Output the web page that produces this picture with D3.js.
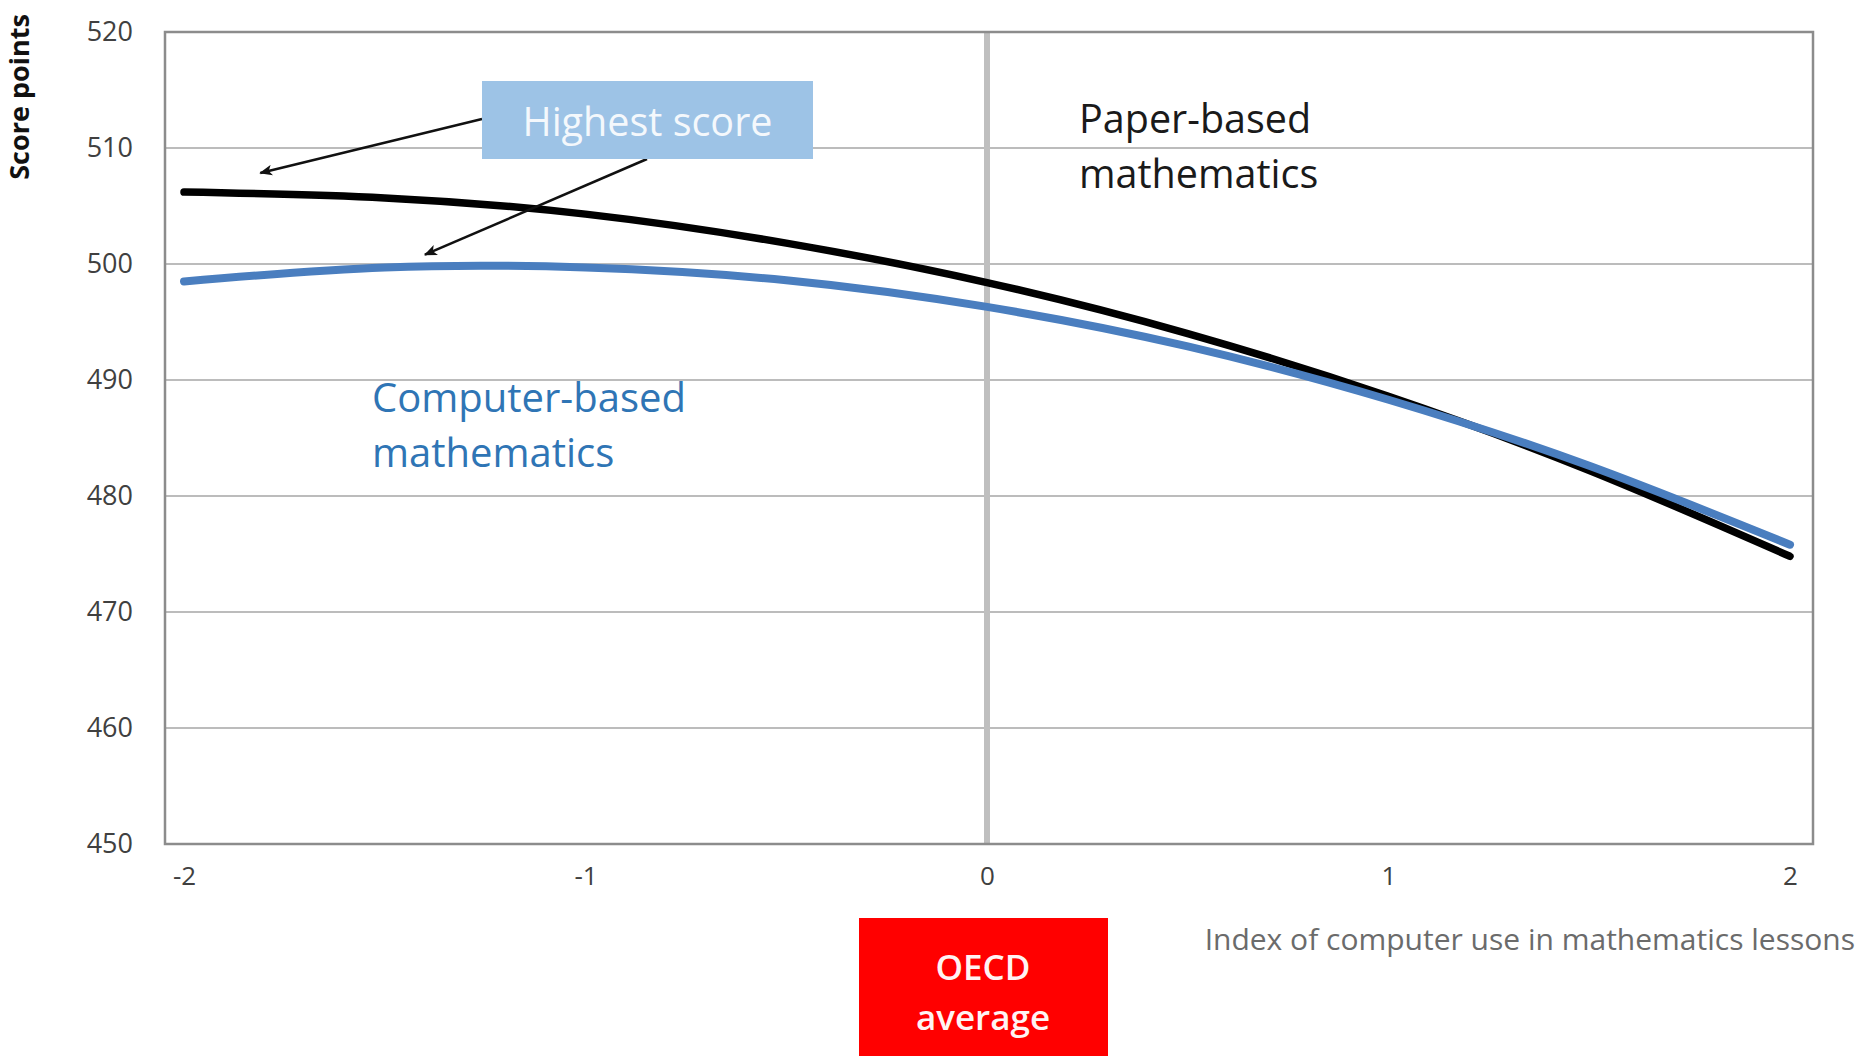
<!DOCTYPE html>
<html>
<head>
<meta charset="utf-8">
<script src="https://cdn.jsdelivr.net/npm/d3@7"></script>
<style>
  html, body { margin: 0; padding: 0; background: #ffffff; }
  svg { display: block; }
  text { font-family: "Open Sans", "DejaVu Sans", sans-serif; }
</style>
</head>
<body>
<svg id="chart" width="1874" height="1056"></svg>
<script>
// ---- Data ----
const xValues = [-2, -1.5, -1, -0.5, 0, 0.5, 1, 1.5, 2];
const paperScores = [506.2, 505.7, 504.3, 501.8, 498.4, 494.0, 488.6, 482.2, 474.8];
const computerScores = [498.5, 499.7, 499.7, 498.6, 496.3, 492.9, 488.3, 482.6, 475.8];
const yTicks = [450, 460, 470, 480, 490, 500, 510, 520];
const xTicks = [-2, -1, 0, 1, 2];
const yTitle = "Score points";
const xTitle = "Index of computer use in mathematics lessons";
const paperLabel = ["Paper-based", "mathematics"];
const computerLabel = ["Computer-based", "mathematics"];
const highestLabel = "Highest score";
const oecdLabel = ["OECD", "average"];

// ---- Layout ----
const frame = { left: 165, right: 1813, top: 32, bottom: 844 };
const svg = d3.select("#chart");

const x = d3.scaleLinear().domain([-2, 2]).range([184, 1790]);
const y = d3.scaleLinear().domain([450, 520]).range([frame.bottom, frame.top]);

// gridlines
svg.append("g")
  .selectAll("line")
  .data(yTicks)
  .join("line")
  .attr("x1", frame.left).attr("x2", frame.right)
  .attr("y1", d => y(d)).attr("y2", d => y(d))
  .attr("stroke", "#a6a6a6").attr("stroke-width", 1.5);

// vertical line at OECD average (0)
svg.append("line")
  .attr("x1", x(0)).attr("x2", x(0))
  .attr("y1", frame.top).attr("y2", frame.bottom)
  .attr("stroke", "#bfbfbf").attr("stroke-width", 6);

// frame
svg.append("rect")
  .attr("x", frame.left).attr("y", frame.top)
  .attr("width", frame.right - frame.left)
  .attr("height", frame.bottom - frame.top)
  .attr("fill", "none").attr("stroke", "#8c8c8c").attr("stroke-width", 2.5);

// y axis
const yAxis = svg.append("g")
  .attr("transform", `translate(${frame.left},0)`)
  .call(d3.axisLeft(y).tickValues(yTicks).tickSize(0).tickPadding(32));
yAxis.select(".domain").remove();
yAxis.selectAll("text")
  .attr("font-family", "Open Sans").attr("font-size", 27).attr("fill", "#404040");

// x axis
const xAxis = svg.append("g")
  .attr("transform", `translate(0,${frame.bottom})`)
  .call(d3.axisBottom(x).tickValues(xTicks).tickSize(0).tickPadding(23).tickFormat(d3.format("d")));
xAxis.select(".domain").remove();
xAxis.selectAll("text")
  .attr("font-family", "Open Sans").attr("font-size", 26).attr("fill", "#404040")
  .text(d => String(d).replace("\u2212", "-"));

// lines
const line = d3.line().x(d => x(d[0])).y(d => y(d[1])).curve(d3.curveNatural);
const paperData = xValues.map((v, i) => [v, paperScores[i]]);
const compData = xValues.map((v, i) => [v, computerScores[i]]);

svg.append("path").datum(paperData)
  .attr("d", line).attr("fill", "none")
  .attr("stroke", "#000000").attr("stroke-width", 7.5)
  .attr("stroke-linecap", "round");
svg.append("path").datum(compData)
  .attr("d", line).attr("fill", "none")
  .attr("stroke", "#4a7ebf").attr("stroke-width", 8)
  .attr("stroke-linecap", "round");

// arrows
const defs = svg.append("defs");
defs.append("marker")
  .attr("id", "arrow").attr("viewBox", "0 0 12 10")
  .attr("refX", 11).attr("refY", 5)
  .attr("markerWidth", 13).attr("markerHeight", 11)
  .attr("markerUnits", "userSpaceOnUse")
  .attr("orient", "auto")
  .append("path").attr("d", "M0,0 L12,5 L0,10 L3,5 Z").attr("fill", "#111");

const arrows = [
  { x1: 482, y1: 119, tx: -1.81, ty: 507.85 },
  { x1: 647, y1: 159, tx: -1.40, ty: 500.8 }
];
svg.append("g").selectAll("line").data(arrows).join("line")
  .attr("x1", d => d.x1).attr("y1", d => d.y1)
  .attr("x2", d => x(d.tx)).attr("y2", d => y(d.ty))
  .attr("stroke", "#111").attr("stroke-width", 2.5)
  .attr("marker-end", "url(#arrow)");

// Highest score box
svg.append("rect")
  .attr("x", 482).attr("y", 81).attr("width", 331).attr("height", 78)
  .attr("fill", "#9dc3e6");
svg.append("text")
  .attr("x", 647.5).attr("y", 136)
  .attr("text-anchor", "middle")
  .attr("font-size", 39.5).attr("fill", "#f4f8fc")
  .text(highestLabel);

// series labels
svg.append("g").selectAll("text").data(paperLabel).join("text")
  .attr("x", 1079).attr("y", (d, i) => 133 + i * 55)
  .attr("font-size", 39.5).attr("fill", "#1a1a1a")
  .text(d => d);

svg.append("g").selectAll("text").data(computerLabel).join("text")
  .attr("x", 372).attr("y", (d, i) => 412 + i * 55)
  .attr("font-size", 40).attr("fill", "#2f75b5")
  .text(d => d);

// y title
svg.append("text")
  .attr("transform", "translate(29,97) rotate(-90)")
  .attr("text-anchor", "middle")
  .attr("font-size", 27).attr("font-weight", 700).attr("fill", "#111")
  .text(yTitle);

// x title
svg.append("text")
  .attr("x", 1855).attr("y", 950)
  .attr("text-anchor", "end")
  .attr("font-size", 30).attr("fill", "#6b6b6b")
  .text(xTitle);

// OECD average box
svg.append("rect")
  .attr("x", 859).attr("y", 918).attr("width", 249).attr("height", 150)
  .attr("fill", "#ff0000");
svg.append("g").selectAll("text").data(oecdLabel).join("text")
  .attr("x", 983).attr("y", (d, i) => 980 + i * 50)
  .attr("text-anchor", "middle")
  .attr("font-size", 35).attr("font-weight", 600).attr("fill", "#fff3f3")
  .text(d => d);
</script>
</body>
</html>
